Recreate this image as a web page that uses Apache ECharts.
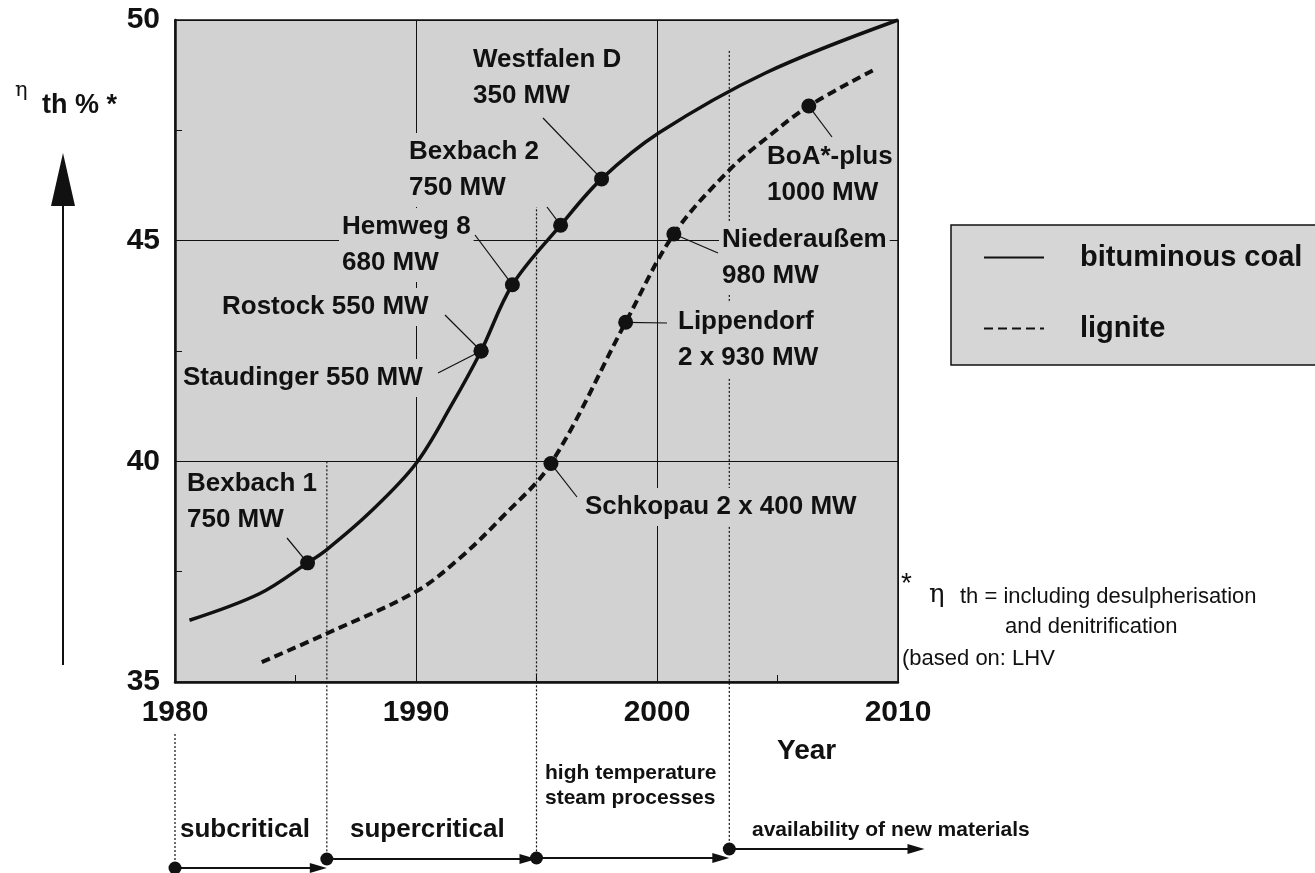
<!DOCTYPE html>
<html>
<head>
<meta charset="utf-8">
<script src="https://cdn.jsdelivr.net/npm/echarts/dist/echarts.min.js"></script>
<style>
  html, body { margin: 0; padding: 0; background: #fff; }
  #chart { width: 1315px; height: 873px; }
</style>
</head>
<body>
<div id="chart"></div>
<script>
// efficiency curves (year, eta_th %)
const coalYears = [1980.6, 1983.5, 1985.5, 1986.3, 1988.1, 1990.0, 1991.5, 1992.7, 1994.0, 1996.0, 1997.7, 2000.1, 2004.5, 2010.0];
const coalEff   = [36.4, 37.0, 37.7, 38.0, 38.85, 39.95, 41.3, 42.5, 44.0, 45.35, 46.4, 47.45, 48.8, 50.0];
const ligniteYears = [1983.6, 1986.3, 1990.0, 1991.8, 1993.6, 1995.6, 1998.7, 2000.7, 2003.0, 2004.6, 2006.3, 2009.1];
const ligniteEff   = [35.45, 36.1, 37.05, 37.8, 38.75, 39.95, 43.15, 45.15, 46.6, 47.35, 48.05, 48.9];

// power plants marked on the curves
const plantNames = ['Bexbach 1\n750 MW', 'Staudinger 550 MW', 'Rostock 550 MW', 'Hemweg 8\n680 MW', 'Bexbach 2\n750 MW',
  'Westfalen D\n350 MW', 'Schkopau 2 x 400 MW', 'Lippendorf\n2 x 930 MW', 'Niederaußem\n980 MW', 'BoA*-plus\n1000 MW'];
const plantYears = [1985.5, 1992.7, 1992.7, 1994.0, 1996.0, 1997.7, 1995.6, 1998.7, 2000.7, 2006.3];
const plantEff   = [37.7, 42.5, 42.5, 44.0, 45.35, 46.4, 39.95, 43.15, 45.15, 48.05];

// technology eras (timeline under the chart)
const eraNames = ['subcritical', 'supercritical', 'high temperature\nsteam processes', 'availability of new materials'];
const eraStart = [1980, 1986.3, 1995, 2003];
const eraEnd   = [1986.3, 1995, 2003, 2011.1];
const eraTopEff = [null, 40, 45.8, 49.3];

const xTicks = [1980, 2010, 10];
const yTicks = [35, 50, 5];

// layout (pixels): label left, first line centre, leader start x, y
const labelLayout = [[187, 484, 287, 538], [183, 378, 438, 373], [222, 307, 445, 315], [342, 227, 475, 235], [409, 152, 547, 207],
  [473, 60, 543, 118], [585, 507, 577, 497], [678, 322, 667, 323], [722, 240, 718, 253], [767, 157, 832, 137]];
const eraRowY = [868, 859, 858, 849];
const eraText = [[180, 830, 26], [350, 830, 26], [545, 773, 21], [752, 830, 21]];

const FONT = '"Liberation Sans", Arial, Helvetica, sans-serif';
const INK = '#111';
const PLOT_BG = '#d2d2d2';

const zip = (a, b) => a.map((v, i) => [v, b[i]]);

const chart = echarts.init(document.getElementById('chart'));
chart.setOption({
  animation: false,
  grid: { left: 175, top: 20, right: 417, bottom: 191, show: true, backgroundColor: PLOT_BG,
    borderColor: INK, borderWidth: 1.5, outerBoundsMode: 'none' },
  legend: {
    data: [
      { name: 'bituminous coal', itemStyle: { opacity: 0 } },
      { name: 'lignite', itemStyle: { opacity: 0 } }
    ],
    orient: 'vertical', left: 951, top: 225,
    padding: [18, 40, 22, 32], itemWidth: 60, itemHeight: 20, itemGap: 42,
    itemStyle: { opacity: 0 },
    backgroundColor: '#d6d6d6', borderColor: INK, borderWidth: 1.5, borderRadius: 0,
    textStyle: { fontFamily: FONT, fontWeight: 'bold', fontSize: 29, color: INK, padding: [0, 0, 0, 31] }
  },
  xAxis: {
    type: 'value', min: xTicks[0], max: xTicks[1], interval: xTicks[2],
    axisLine: { lineStyle: { color: INK, width: 2.5 } },
    axisTick: { show: false, inside: true },
    minorTick: { show: true, splitNumber: 2, length: 7, lineStyle: { color: INK } },
    splitLine: { show: true, lineStyle: { color: INK, width: 1 } },
    axisLabel: { margin: 16, color: INK, fontFamily: FONT, fontWeight: 'bold', fontSize: 30,
      formatter: v => String(v) }
  },
  yAxis: {
    type: 'value', min: yTicks[0], max: yTicks[1], interval: yTicks[2],
    axisLine: { show: true, lineStyle: { color: INK, width: 2.5 } },
    axisTick: { show: false, inside: true },
    minorTick: { show: true, splitNumber: 2, length: 7, lineStyle: { color: INK } },
    splitLine: { show: true, lineStyle: { color: INK, width: 1 } },
    axisLabel: { margin: 15, color: INK, fontFamily: FONT, fontWeight: 'bold', fontSize: 30 }
  },
  series: [
    { name: 'bituminous coal', type: 'line', data: zip(coalYears, coalEff), smooth: 0.35,
      symbol: 'none', itemStyle: { color: INK }, lineStyle: { color: INK, width: 3.5 }, z: 3 },
    { name: 'lignite', type: 'line', data: zip(ligniteYears, ligniteEff), smooth: 0.35,
      symbol: 'none', itemStyle: { color: INK }, lineStyle: { color: INK, width: 4, type: [9, 5] }, z: 3 },
    { name: 'plants', type: 'scatter', data: zip(plantYears, plantEff), symbolSize: 15,
      itemStyle: { color: INK, opacity: 1 }, z: 5 }
  ]
});

const px = (x, y) => chart.convertToPixel({ gridIndex: 0 }, [x, y]);
const g = [];

// plant labels with leader lines
plantNames.forEach((name, i) => {
  const [lx, cy, sx, sy] = labelLayout[i];
  const dot = px(plantYears[i], plantEff[i]);
  g.push({ type: 'text', x: lx - 3, y: cy - 19, z: 1,
    style: { text: name, font: 'bold 26px ' + FONT, fill: INK, lineHeight: 36,
      backgroundColor: PLOT_BG, padding: [1, 3] } });
  g.push({ type: 'line', z: 4, shape: { x1: sx, y1: sy, x2: dot[0], y2: dot[1] },
    style: { stroke: INK, lineWidth: 1.2 } });
});

// era boundaries and timeline arrows
const bottom = px(1980, 35)[1];
eraStart.forEach((yr, i) => {
  const x = px(yr, 35)[0];
  const rowY = eraRowY[i];
  const top = eraTopEff[i] == null ? bottom + 52 : px(yr, eraTopEff[i])[1];
  g.push({ type: 'line', z: 0.5, shape: { x1: x, y1: top, x2: x, y2: rowY },
    style: { stroke: INK, lineWidth: 1.2, lineDash: [2, 2] } });
  const xe = px(eraEnd[i], 35)[0];
  g.push({ type: 'line', z: 4, shape: { x1: x, y1: rowY, x2: xe - 14, y2: rowY },
    style: { stroke: INK, lineWidth: 2 } });
  g.push({ type: 'polygon', z: 4, shape: { points: [[xe, rowY], [xe - 17, rowY - 5], [xe - 17, rowY + 5]] },
    style: { fill: INK } });
  g.push({ type: 'circle', z: 4, shape: { cx: x, cy: rowY, r: 6.5 }, style: { fill: INK } });
  const [tx, ty, fs] = eraText[i];
  g.push({ type: 'text', x: tx, y: ty - (i === 2 ? 12.5 : 15), z: 4,
    style: { text: eraNames[i], font: 'bold ' + fs + 'px ' + FONT, fill: INK, lineHeight: i === 2 ? 25 : 30 } });
});

// axis titles
g.push({ type: 'text', x: 15, y: 80, style: { text: 'η', font: '21px "DejaVu Serif", serif', fill: INK } });
g.push({ type: 'text', x: 42, y: 92, style: { text: 'th % *', font: 'bold 27px ' + FONT, fill: INK } });
g.push({ type: 'line', shape: { x1: 63, y1: 200, x2: 63, y2: 665 }, style: { stroke: INK, lineWidth: 2 } });
g.push({ type: 'polygon', shape: { points: [[63, 153], [51, 206], [75, 206]] }, style: { fill: INK } });
g.push({ type: 'text', x: 777, y: 737, style: { text: 'Year', font: 'bold 28px ' + FONT, fill: INK } });

// footnote
g.push({ type: 'text', x: 901, y: 570, style: { text: '*', font: '28px ' + FONT, fill: INK } });
g.push({ type: 'text', x: 929, y: 582, style: { text: 'η', font: '26px "DejaVu Serif", serif', fill: INK } });
g.push({ type: 'text', x: 960, y: 586, style: { text: 'th = including desulpherisation', font: '22px ' + FONT, fill: INK } });
g.push({ type: 'text', x: 1005, y: 616, style: { text: 'and denitrification', font: '22px ' + FONT, fill: INK } });
g.push({ type: 'text', x: 902, y: 648, style: { text: '(based on: LHV', font: '22px ' + FONT, fill: INK } });

chart.setOption({ graphic: g });
</script>
</body>
</html>
